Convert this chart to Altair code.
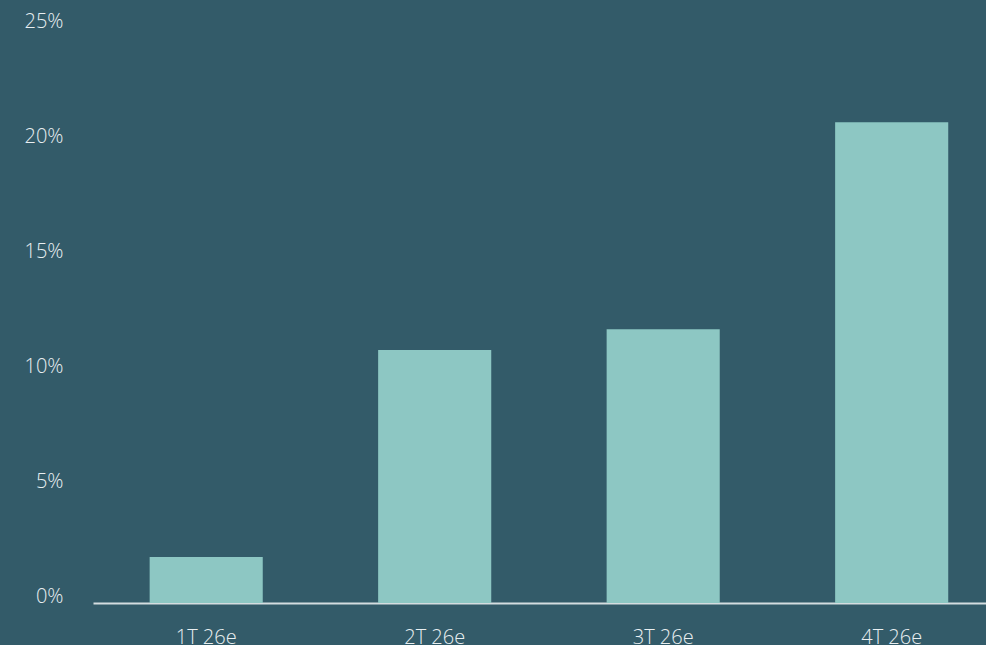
import altair as alt
import pandas as pd

quarters = ["1T 26e", "2T 26e", "3T 26e", "4T 26e"]
values = [2.0, 11.0, 11.9, 20.9]
y_ticks = [0, 5, 10, 15, 20, 25]

df = pd.DataFrame({"quarter": quarters, "value": values})

BG = "#335b69"
BAR = "#8dc7c3"
TXT = "#e9eff1"
FONT = "Open Sans"

chart = (
    alt.Chart(df)
    .mark_bar(color=BAR)
    .encode(
        x=alt.X(
            "quarter:N",
            sort=quarters,
            title=None,
            scale=alt.Scale(paddingInner=0.505, paddingOuter=0.2066, align=0.6),
            axis=alt.Axis(
                labelAngle=0,
                labelFont=FONT,
                labelFontSize=20,
                labelFontWeight=300,
                labelColor=TXT,
                labelPadding=24,
                labelBaseline="top",
                ticks=False,
                domain=True,
                domainColor="#d4dde0",
                domainWidth=2,
                grid=False,
            ),
        ),
        y=alt.Y(
            "value:Q",
            title=None,
            scale=alt.Scale(domain=[0, 25], nice=False),
            axis=alt.Axis(
                values=y_ticks,
                labelExpr="datum.value + '%'",
                labelFont=FONT,
                labelFontSize=20,
                labelFontWeight=300,
                labelColor=TXT,
                labelPadding=30,
                labelOffset=-7,
                labelAlign="right",
                labelBaseline="middle",
                ticks=False,
                domain=False,
                grid=False,
            ),
        ),
    )
    .properties(
        width=893,
        height=575,
        background=BG,
        autosize=alt.AutoSizeParams(type="none"),
        padding={"left": 93, "top": 28, "right": 0, "bottom": 42},
    )
    .configure_view(stroke=None)
)

chart.save("out.html", embed_options={"renderer": "svg", "actions": False})
